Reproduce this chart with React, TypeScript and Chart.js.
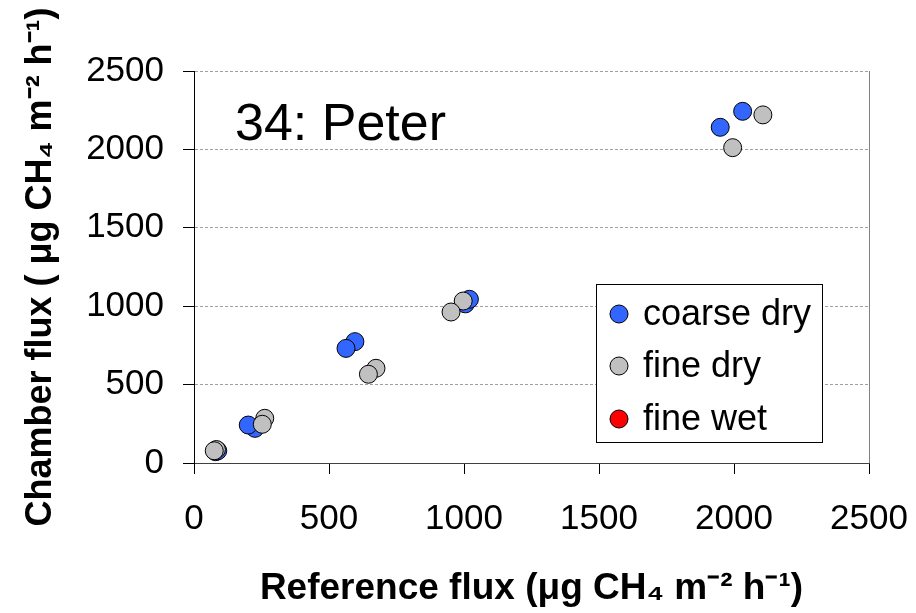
import React, { useEffect, useRef } from "react";
import { Chart, registerables } from "chart.js";

Chart.register(...registerables);

const FONT = '"Liberation Sans", Arial, sans-serif';

const seriesLabels = ["coarse dry", "fine dry", "fine wet"];
const seriesColors = ["#3366FF", "#C0C0C0", "#FF0000"];

const coarseDryX = [80, 88, 226, 201, 596, 563, 1005, 1020, 1949, 2032];
const coarseDryY = [72, 78, 221, 242, 774, 731, 1015, 1044, 2141, 2243];
const fineDryX = [83, 75, 262, 253, 674, 646, 997, 952, 1995, 2107];
const fineDryY = [86, 78, 285, 247, 604, 566, 1033, 963, 2011, 2220];
const fineWetX: number[] = [];
const fineWetY: number[] = [];

const axisTicks = [0, 500, 1000, 1500, 2000, 2500];
const panelLabel = "34: Peter";
const xTitle = "Reference flux (\u03bcg CH\u2084 m\u207b\u00b2 h\u207b\u00b9)";
const yTitle = "Chamber flux ( \u03bcg CH\u2084 m\u207b\u00b2 h\u207b\u00b9)";

const toPoints = (xs: number[], ys: number[]) => xs.map((x, i) => ({ x, y: ys[i] }));

const decorPlugin = {
  id: "decor",
  afterDatasetsDraw(chart: any) {
    const { ctx, chartArea } = chart;
    ctx.save();
    // right border of plot area
    ctx.strokeStyle = "#808080";
    ctx.lineWidth = 1;
    ctx.beginPath();
    ctx.moveTo(Math.round(chartArea.right) + 0.5, chartArea.top);
    ctx.lineTo(Math.round(chartArea.right) + 0.5, chartArea.bottom);
    ctx.stroke();

    // panel label
    ctx.fillStyle = "#000";
    ctx.font = `52px ${FONT}`;
    ctx.textAlign = "left";
    ctx.textBaseline = "alphabetic";
    ctx.fillText(panelLabel, 235, 140);

    // legend box
    const bx = 596.5, by = 284.5, bw = 226, bh = 158;
    ctx.fillStyle = "#fff";
    ctx.fillRect(bx, by, bw, bh);
    ctx.strokeStyle = "#000";
    ctx.strokeRect(bx, by, bw, bh);
    const rows = [314, 366, 419];
    ctx.font = `36px ${FONT}`;
    ctx.textBaseline = "middle";
    chart.data.datasets.forEach((ds: any, i: number) => {
      ctx.beginPath();
      ctx.arc(619, rows[i], 9, 0, Math.PI * 2);
      ctx.fillStyle = ds.backgroundColor;
      ctx.fill();
      ctx.strokeStyle = "#000";
      ctx.lineWidth = 1;
      ctx.stroke();
      ctx.fillStyle = "#000";
      ctx.fillText(ds.label, 643, rows[i] + 1);
    });
    ctx.restore();
  },
};

export default function App() {
  const ref = useRef<HTMLCanvasElement>(null);
  useEffect(() => {
    if (!ref.current) return;
    const datasets = [
      { label: seriesLabels[0], data: toPoints(coarseDryX, coarseDryY), backgroundColor: seriesColors[0], order: 2 },
      { label: seriesLabels[1], data: toPoints(fineDryX, fineDryY), backgroundColor: seriesColors[1], order: 1 },
      { label: seriesLabels[2], data: toPoints(fineWetX, fineWetY), backgroundColor: seriesColors[2], order: 0 },
    ].map((d) => ({
      ...d,
      borderColor: "#000",
      borderWidth: 1,
      pointRadius: 9,
      pointHoverRadius: 9,
    }));
    const tickCb = (v: any) => String(v);
    const chart = new Chart(ref.current, {
      type: "scatter",
      data: { datasets },
      options: {
        animation: false,
        responsive: false,
        events: [],
        layout: { padding: { top: 71, right: 47, left: 0, bottom: 0 } },
        plugins: { legend: { display: false }, tooltip: { enabled: false } },
        scales: {
          x: {
            type: "linear",
            min: 0,
            max: 2500,
            afterBuildTicks: (s: any) => { s.ticks = axisTicks.map((v) => ({ value: v })); },
            afterFit: (s: any) => { s.height = 150; s.paddingLeft = 0; s.paddingRight = 0; },
            ticks: { callback: tickCb, color: "#000", font: { family: FONT, size: 35 }, padding: 24, maxRotation: 0 },
            grid: { drawOnChartArea: false, drawTicks: true, tickLength: 11, tickColor: "#000", color: "#000" },
            border: { color: "#404040", width: 1 },
            title: { display: true, text: xTitle, color: "#000", font: { family: FONT, size: 37, weight: "bold" }, padding: { top: 0, bottom: 2 } },
          },
          y: {
            type: "linear",
            min: 0,
            max: 2500,
            afterBuildTicks: (s: any) => { s.ticks = axisTicks.map((v) => ({ value: v })); },
            afterFit: (s: any) => { s.width = 194; s.paddingTop = 0; s.paddingBottom = 0; },
            ticks: { callback: tickCb, color: "#000", font: { family: FONT, size: 35 }, padding: 19 },
            grid: {
              drawOnChartArea: true,
              drawTicks: true,
              tickLength: 11,
              tickColor: "#000",
              color: (c: any) => (c.tick && c.tick.value === 0 ? "rgba(0,0,0,0)" : "#a0a0a0"),
            },
            border: { color: "#000", width: 1, dash: [3, 2] },
            title: { display: true, text: yTitle, color: "#000", font: { family: FONT, size: 36, weight: "bold" }, padding: { top: 19, bottom: 0 } },
          },
        },
      },
      plugins: [decorPlugin],
    } as any);
    return () => chart.destroy();
  }, []);
  return (
    <div style={{ position: "absolute", left: 0, top: 0, width: 916, height: 613 }}>
      <canvas ref={ref} width={916} height={613} style={{ width: 916, height: 613 }} />
    </div>
  );
}
